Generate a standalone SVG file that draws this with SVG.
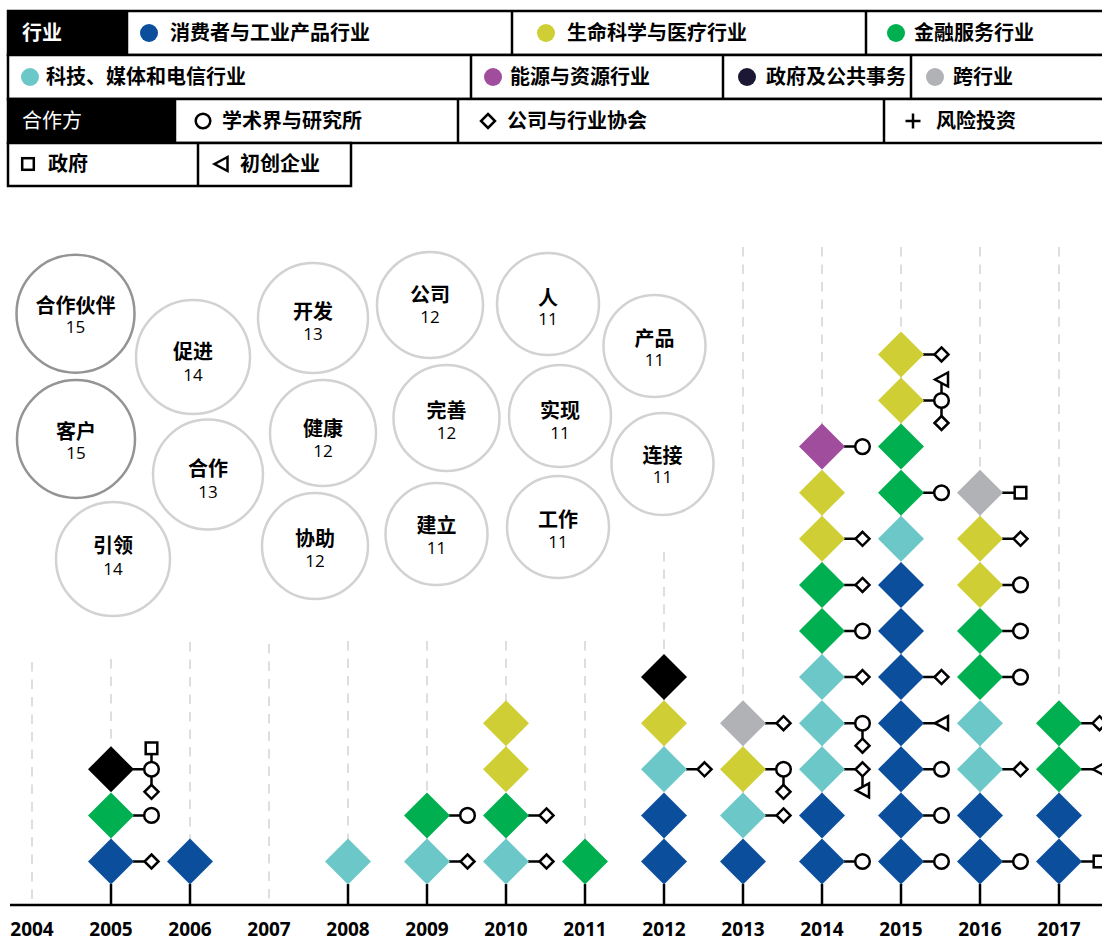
<svg xmlns="http://www.w3.org/2000/svg" width="1102" height="949" viewBox="0 0 1102 949">
<style>
.cB{fill:#0b4f9c}.cY{fill:#cfcf35}.cG{fill:#00b050}.cT{fill:#6cc8c8}.cP{fill:#a04d9e}.cK{fill:#000}.cA{fill:#b1b2b5}.cN{fill:#1c1733}
.s{fill:#fff;stroke:#000;stroke-width:2.5}
.cn{stroke:#000;stroke-width:2.5;fill:none}
.gd{stroke:#d3d3d3;stroke-width:1.5;stroke-dasharray:9.5 8;fill:none}
.cell{fill:#fff;stroke:#000;stroke-width:2.5}
.sep{stroke:#000;stroke-width:2.5}
.lg{font-family:"Noto Sans CJK SC",sans-serif;font-weight:bold;font-size:20px;fill:#000}
.bub{fill:#fff;stroke:#d2d2d2;stroke-width:2.5}
.bubd{fill:#fff;stroke:#949494;stroke-width:2.5}
.bl{font-family:"Noto Sans CJK SC",sans-serif;font-weight:bold;font-size:20px;text-anchor:middle;fill:#000}
.bn{font-family:"Open Sans",sans-serif;font-size:17px;text-anchor:middle;fill:#000}
.yr{font-family:"Open Sans",sans-serif;font-weight:bold;font-size:19px;text-anchor:middle;fill:#000}
</style>
<defs>
<path id="d" d="M0-23L23 0 0 23-23 0Z"/>
<circle id="pc" r="7.3"/>
<path id="pd" d="M0-7L7 0 0 7-7 0Z"/>
<rect id="ps" x="-5.8" y="-5.8" width="11.6" height="11.6"/>
<path id="pt" d="M-6.5 0L6.5-7 6.5 7Z"/>
</defs>
<rect width="1102" height="949" fill="#fff"/>

<g id="legend">
<rect class="cell" x="8" y="11" width="1100" height="44"/>
<rect x="8" y="11" width="119" height="44" fill="#000"/>
<line class="sep" x1="127" y1="11" x2="127" y2="55"/>
<line class="sep" x1="512" y1="11" x2="512" y2="55"/>
<line class="sep" x1="866" y1="11" x2="866" y2="55"/>
<text class="lg" x="22" y="40" style="fill:#fff">行业</text>
<circle class="cB" cx="149" cy="33" r="9"/><text class="lg" x="170" y="40">消费者与工业产品行业</text>
<circle class="cY" cx="546" cy="33" r="9"/><text class="lg" x="567" y="40">生命科学与医疗行业</text>
<circle class="cG" cx="896" cy="33" r="9"/><text class="lg" x="914" y="40">金融服务行业</text>

<rect class="cell" x="8" y="55" width="1100" height="44"/>
<line class="sep" x1="471" y1="55" x2="471" y2="99"/>
<line class="sep" x1="723" y1="55" x2="723" y2="99"/>
<line class="sep" x1="911" y1="55" x2="911" y2="99"/>
<circle class="cT" cx="30" cy="77" r="9"/><text class="lg" x="46" y="84">科技、媒体和电信行业</text>
<circle class="cP" cx="493" cy="77" r="9"/><text class="lg" x="510" y="84">能源与资源行业</text>
<circle class="cN" cx="747" cy="77" r="9"/><text class="lg" x="766" y="84">政府及公共事务</text>
<circle class="cA" cx="935" cy="77" r="9"/><text class="lg" x="953" y="84">跨行业</text>

<rect class="cell" x="8" y="99" width="1100" height="44"/>
<rect x="8" y="99" width="167" height="44" fill="#000"/>
<line class="sep" x1="175" y1="99" x2="175" y2="143"/>
<line class="sep" x1="458" y1="99" x2="458" y2="143"/>
<line class="sep" x1="884" y1="99" x2="884" y2="143"/>
<text x="22" y="128" style="font-family:'Noto Sans CJK SC',sans-serif;font-size:20px;fill:#fff">合作方</text>
<use href="#pc" x="203" y="121" class="s"/><text class="lg" x="222" y="128">学术界与研究所</text>
<use href="#pd" x="488" y="121" class="s"/><text class="lg" x="507" y="128">公司与行业协会</text>
<path d="M905.5 121H920.5M913 113.5V128.5" class="cn"/><text class="lg" x="936" y="128">风险投资</text>

<rect class="cell" x="8" y="143" width="343" height="43"/>
<line class="sep" x1="198" y1="143" x2="198" y2="186"/>
<use href="#ps" x="28" y="164" class="s"/><text class="lg" x="48" y="171">政府</text>
<use href="#pt" x="221" y="164" class="s"/><text class="lg" x="240" y="171">初创企业</text>
</g>

<g id="bubbles">
<g id="b-hezuohuoban"><circle class="bubd" cx="75.5" cy="313.7" r="59"/><text class="bl" x="75.5" y="313">合作伙伴</text><text class="bn" x="75.5" y="333">15</text></g>
<g id="b-kehu"><circle class="bubd" cx="76" cy="439" r="59"/><text class="bl" x="76" y="439">客户</text><text class="bn" x="76" y="459">15</text></g>
<g id="b-cujin"><circle class="bub" cx="193" cy="357" r="57"/><text class="bl" x="193" y="359">促进</text><text class="bn" x="193" y="381">14</text></g>
<g id="b-hezuo"><circle class="bub" cx="208" cy="474.5" r="55"/><text class="bl" x="208" y="476">合作</text><text class="bn" x="208" y="497.5">13</text></g>
<g id="b-yinling"><circle class="bub" cx="113" cy="559" r="57"/><text class="bl" x="113" y="553">引领</text><text class="bn" x="113" y="575">14</text></g>
<g id="b-kaifa"><circle class="bub" cx="313" cy="318" r="55"/><text class="bl" x="313" y="319">开发</text><text class="bn" x="313" y="340">13</text></g>
<g id="b-jiankang"><circle class="bub" cx="323" cy="433" r="53"/><text class="bl" x="323" y="436">健康</text><text class="bn" x="323" y="457">12</text></g>
<g id="b-xiezhu"><circle class="bub" cx="315" cy="546" r="53"/><text class="bl" x="315" y="545.5">协助</text><text class="bn" x="315" y="567">12</text></g>
<g id="b-gongsi"><circle class="bub" cx="430" cy="305" r="53"/><text class="bl" x="430" y="301.5">公司</text><text class="bn" x="430" y="323">12</text></g>
<g id="b-wanshan"><circle class="bub" cx="446.5" cy="418" r="53"/><text class="bl" x="446.5" y="418">完善</text><text class="bn" x="446.5" y="439">12</text></g>
<g id="b-jianli"><circle class="bub" cx="436.5" cy="534" r="51"/><text class="bl" x="436.5" y="533">建立</text><text class="bn" x="436.5" y="554">11</text></g>
<g id="b-ren"><circle class="bub" cx="548" cy="304" r="51"/><text class="bl" x="548" y="305">人</text><text class="bn" x="548" y="325">11</text></g>
<g id="b-shixian"><circle class="bub" cx="560" cy="416" r="51"/><text class="bl" x="560" y="418">实现</text><text class="bn" x="560" y="439">11</text></g>
<g id="b-gongzuo"><circle class="bub" cx="558" cy="527" r="51"/><text class="bl" x="558" y="526.5">工作</text><text class="bn" x="558" y="547.5">11</text></g>
<g id="b-chanpin"><circle class="bub" cx="654.5" cy="346" r="51"/><text class="bl" x="654.5" y="346">产品</text><text class="bn" x="654.5" y="366">11</text></g>
<g id="b-lianjie"><circle class="bub" cx="662.5" cy="464" r="51"/><text class="bl" x="662.5" y="462.5">连接</text><text class="bn" x="662.5" y="482.5">11</text></g>
</g>

<g id="guides">
<line class="gd" x1="32" y1="662" x2="32" y2="905"/>
<line class="gd" x1="111" y1="659" x2="111" y2="905"/>
<line class="gd" x1="190" y1="642" x2="190" y2="905"/>
<line class="gd" x1="269" y1="644" x2="269" y2="905"/>
<line class="gd" x1="348" y1="641" x2="348" y2="905"/>
<line class="gd" x1="427" y1="641" x2="427" y2="905"/>
<line class="gd" x1="506" y1="641" x2="506" y2="905"/>
<line class="gd" x1="585" y1="641" x2="585" y2="905"/>
<line class="gd" x1="664" y1="552" x2="664" y2="905"/>
<line class="gd" x1="743" y1="247" x2="743" y2="905"/>
<line class="gd" x1="822" y1="247" x2="822" y2="905"/>
<line class="gd" x1="901" y1="247" x2="901" y2="905"/>
<line class="gd" x1="980" y1="247" x2="980" y2="905"/>
<line class="gd" x1="1059" y1="247" x2="1059" y2="905"/>
</g>

<g id="connectors">
<line class="cn" x1="10" y1="905" x2="1102" y2="905"/>
<path class="cn" d="M111 884V905M190 884V905M348 884V905M427 884V905M506 884V905M585 884V905M664 884V905M743 884V905M822 884V905M901 884V905M980 884V905M1059 884V905"/>
<path class="cn" d="M133 861.5H151.5M133 815.4H151.5M133 769.3H151.5M151.5 748.3V791.3
M449 861.5H467.5M449 815.4H467.5
M528 861.5H546.5M528 815.4H546.5
M686 769.3H704.5
M765 815.4H783.5M765 769.3H783.5V791.3M765 723.2H783.5
M844 861.5H862.5M844 769.3H862.5V787M844 723.2H862.5V745.2M844 677.1H862.5M844 631H862.5M844 584.9H862.5M844 538.8H862.5M844 446.6H862.5
M923 861.5H941.5M923 815.4H941.5M923 769.3H941.5M923 723.2H935M923 677.1H941.5M923 492.7H941.5M923 400.5H941.5M941.5 382V422.5M923 354.4H941.5
M1002 861.5H1020.5M1002 769.3H1020.5M1002 677.1H1020.5M1002 631H1020.5M1002 584.9H1020.5M1002 538.8H1020.5M1002 492.7H1020.5
M1081 861.5H1099.5M1081 769.3H1093M1081 723.2H1099.5"/>
</g>

<g id="col-2005">
<use href="#d" x="111" y="861.5" class="cB"/><use href="#d" x="111" y="815.4" class="cG"/><use href="#d" x="111" y="769.3" class="cK"/>
<use href="#pd" x="151.5" y="861.5" class="s"/><use href="#pc" x="151.5" y="815.4" class="s"/><use href="#pc" x="151.5" y="769.3" class="s"/><use href="#ps" x="151.5" y="748.3" class="s"/><use href="#pd" x="151.5" y="791.8" class="s"/>
</g>
<g id="col-2006"><use href="#d" x="190" y="861.5" class="cB"/></g>
<g id="col-2008"><use href="#d" x="348" y="861.5" class="cT"/></g>
<g id="col-2009">
<use href="#d" x="427" y="861.5" class="cT"/><use href="#d" x="427" y="815.4" class="cG"/>
<use href="#pd" x="467.5" y="861.5" class="s"/><use href="#pc" x="467.5" y="815.4" class="s"/>
</g>
<g id="col-2010">
<use href="#d" x="506" y="861.5" class="cT"/><use href="#d" x="506" y="815.4" class="cG"/><use href="#d" x="506" y="769.3" class="cY"/><use href="#d" x="506" y="723.2" class="cY"/>
<use href="#pd" x="546.5" y="861.5" class="s"/><use href="#pd" x="546.5" y="815.4" class="s"/>
</g>
<g id="col-2011"><use href="#d" x="585" y="861.5" class="cG"/></g>
<g id="col-2012">
<use href="#d" x="664" y="861.5" class="cB"/><use href="#d" x="664" y="815.4" class="cB"/><use href="#d" x="664" y="769.3" class="cT"/><use href="#d" x="664" y="723.2" class="cY"/><use href="#d" x="664" y="677.1" class="cK"/>
<use href="#pd" x="704.5" y="769.3" class="s"/>
</g>
<g id="col-2013">
<use href="#d" x="743" y="861.5" class="cB"/><use href="#d" x="743" y="815.4" class="cT"/><use href="#d" x="743" y="769.3" class="cY"/><use href="#d" x="743" y="723.2" class="cA"/>
<use href="#pd" x="783.5" y="815.4" class="s"/><use href="#pc" x="783.5" y="769.3" class="s"/><use href="#pd" x="783.5" y="791.8" class="s"/><use href="#pd" x="783.5" y="723.2" class="s"/>
</g>
<g id="col-2014">
<use href="#d" x="822" y="861.5" class="cB"/><use href="#d" x="822" y="815.4" class="cB"/><use href="#d" x="822" y="769.3" class="cT"/><use href="#d" x="822" y="723.2" class="cT"/><use href="#d" x="822" y="677.1" class="cT"/><use href="#d" x="822" y="631" class="cG"/><use href="#d" x="822" y="584.9" class="cG"/><use href="#d" x="822" y="538.8" class="cY"/><use href="#d" x="822" y="492.7" class="cY"/><use href="#d" x="822" y="446.6" class="cP"/>
<use href="#pc" x="862.5" y="861.5" class="s"/><use href="#pd" x="862.5" y="769.3" class="s"/><use href="#pt" x="862.5" y="790.3" class="s"/><use href="#pc" x="862.5" y="723.2" class="s"/><use href="#pd" x="862.5" y="745.7" class="s"/><use href="#pd" x="862.5" y="677.1" class="s"/><use href="#pc" x="862.5" y="631" class="s"/><use href="#pd" x="862.5" y="584.9" class="s"/><use href="#pd" x="862.5" y="538.8" class="s"/><use href="#pc" x="862.5" y="446.6" class="s"/>
</g>
<g id="col-2015">
<use href="#d" x="901" y="861.5" class="cB"/><use href="#d" x="901" y="815.4" class="cB"/><use href="#d" x="901" y="769.3" class="cB"/><use href="#d" x="901" y="723.2" class="cB"/><use href="#d" x="901" y="677.1" class="cB"/><use href="#d" x="901" y="631" class="cB"/><use href="#d" x="901" y="584.9" class="cB"/><use href="#d" x="901" y="538.8" class="cT"/><use href="#d" x="901" y="492.7" class="cG"/><use href="#d" x="901" y="446.6" class="cG"/><use href="#d" x="901" y="400.5" class="cY"/><use href="#d" x="901" y="354.4" class="cY"/>
<use href="#pc" x="941.5" y="861.5" class="s"/><use href="#pc" x="941.5" y="815.4" class="s"/><use href="#pc" x="941.5" y="769.3" class="s"/><use href="#pt" x="941.5" y="723.2" class="s"/><use href="#pd" x="941.5" y="677.1" class="s"/><use href="#pc" x="941.5" y="492.7" class="s"/><use href="#pc" x="941.5" y="400.5" class="s"/><use href="#pt" x="941.5" y="379.5" class="s"/><use href="#pd" x="941.5" y="423" class="s"/><use href="#pd" x="941.5" y="354.4" class="s"/>
</g>
<g id="col-2016">
<use href="#d" x="980" y="861.5" class="cB"/><use href="#d" x="980" y="815.4" class="cB"/><use href="#d" x="980" y="769.3" class="cT"/><use href="#d" x="980" y="723.2" class="cT"/><use href="#d" x="980" y="677.1" class="cG"/><use href="#d" x="980" y="631" class="cG"/><use href="#d" x="980" y="584.9" class="cY"/><use href="#d" x="980" y="538.8" class="cY"/><use href="#d" x="980" y="492.7" class="cA"/>
<use href="#pc" x="1020.5" y="861.5" class="s"/><use href="#pd" x="1020.5" y="769.3" class="s"/><use href="#pc" x="1020.5" y="677.1" class="s"/><use href="#pc" x="1020.5" y="631" class="s"/><use href="#pc" x="1020.5" y="584.9" class="s"/><use href="#pd" x="1020.5" y="538.8" class="s"/><use href="#ps" x="1020.5" y="492.7" class="s"/>
</g>
<g id="col-2017">
<use href="#d" x="1059" y="861.5" class="cB"/><use href="#d" x="1059" y="815.4" class="cB"/><use href="#d" x="1059" y="769.3" class="cG"/><use href="#d" x="1059" y="723.2" class="cG"/>
<use href="#ps" x="1099.5" y="861.5" class="s"/><use href="#pt" x="1099.5" y="769.3" class="s"/><use href="#pd" x="1099.5" y="723.2" class="s"/>
</g>

<g id="years">
<text class="yr" x="32" y="936">2004</text>
<text class="yr" x="111" y="936">2005</text>
<text class="yr" x="190" y="936">2006</text>
<text class="yr" x="269" y="936">2007</text>
<text class="yr" x="348" y="936">2008</text>
<text class="yr" x="427" y="936">2009</text>
<text class="yr" x="506" y="936">2010</text>
<text class="yr" x="585" y="936">2011</text>
<text class="yr" x="664" y="936">2012</text>
<text class="yr" x="743" y="936">2013</text>
<text class="yr" x="822" y="936">2014</text>
<text class="yr" x="901" y="936">2015</text>
<text class="yr" x="980" y="936">2016</text>
<text class="yr" x="1059" y="936">2017</text>
</g>
</svg>
